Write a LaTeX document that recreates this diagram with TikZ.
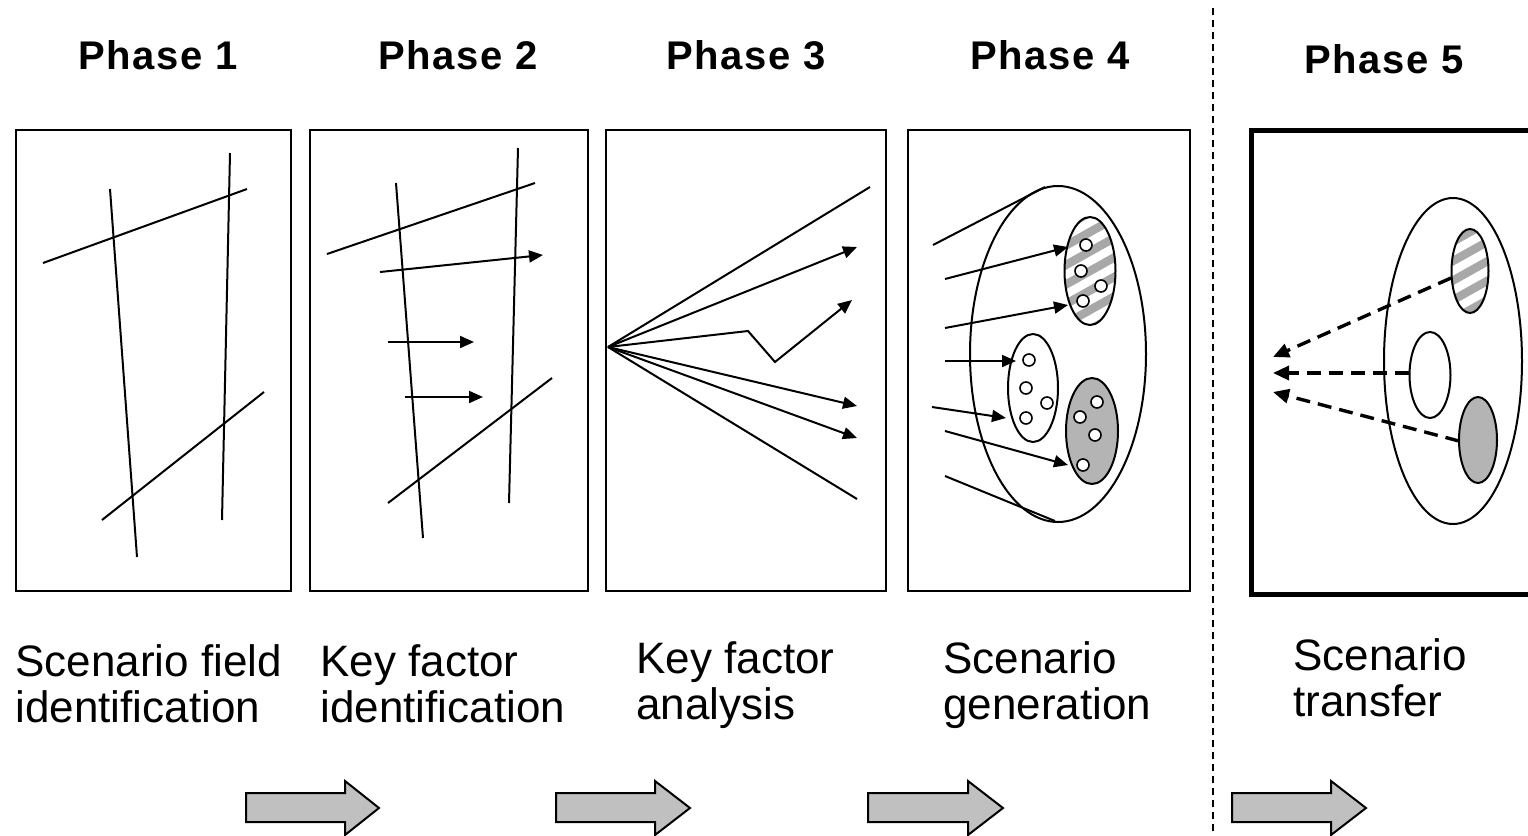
\documentclass[tikz,border=0pt]{standalone}
\usepackage{fontspec}
\setmainfont{Liberation Sans}
\usetikzlibrary{arrows.meta}
\definecolor{arrowgray}{HTML}{C0C0C0}
\definecolor{fillgray}{HTML}{B4B4B4}
\definecolor{hatchgray}{HTML}{A8A8A8}
\newcommand\hatchell[4]{%
  \begin{scope}
    \clip (#1,#2) ellipse [x radius=#3, y radius=#4];
    \foreach \k in {-8,...,8}
      \draw[hatchgray, line width=4.2pt] ({#1-50},{#2+\k*19.5+28}) -- ({#1+50},{#2+\k*19.5-28});
  \end{scope}
  \draw[line width=1pt] (#1,#2) ellipse [x radius=#3, y radius=#4];}
\begin{document}
\begin{tikzpicture}[x=0.5pt,y=-0.5pt,
  panel/.style={draw=black, line width=1pt},
  ln/.style={line width=1pt},
  arr/.style={line width=1pt, -{Triangle[length=7pt,width=6pt]}},
  darr/.style={line width=1.7pt, dash pattern=on 7pt off 4pt, -{Triangle[length=8pt,width=7pt]}},
  blockarrow/.style={draw=black, fill=arrowgray, line width=1pt, line join=miter},
  phase/.style={font=\bfseries\fontsize{20}{24}\selectfont\addfontfeature{LetterSpace=4}, anchor=base, inner sep=0pt},
  lbl/.style={font=\fontsize{22}{23}\selectfont, align=left, anchor=base west, inner sep=0pt},
  dot/.style={draw, line width=0.8pt, fill=white}
]
\clip (0,0) rectangle (1528,836);
\fill[white] (0,0) rectangle (1528,836);

% headings
\node[phase] (h1) at (158,69) {Phase 1};
\node[phase] (h2) at (458,69) {Phase 2};
\node[phase] (h3) at (746,69) {Phase 3};
\node[phase] (h4) at (1050,69) {Phase 4};
\node[phase] (h5) at (1384,73) {Phase 5};

% panels
\draw[panel] (16,130) rectangle (291,591);
\draw[panel] (310,130) rectangle (588,591);
\draw[panel] (606,130) rectangle (886,591);
\draw[panel] (908,130) rectangle (1190,591);
\draw[line width=2.5pt] (1251,130) rectangle (1545,594);

% separator
\draw[line width=1pt, dash pattern=on 3.5pt off 2.5pt] (1213,8) -- (1213,836);

% Phase 1
\draw[ln] (110,189) -- (137,557);
\draw[ln] (230,153) -- (222,520);
\draw[ln] (43,263) -- (247,189);
\draw[ln] (102,520) -- (264,392);

% Phase 2
\draw[ln] (396,183) -- (423,538);
\draw[ln] (518,148) -- (509,503);
\draw[ln] (327,254) -- (535,183);
\draw[ln] (388,503) -- (552,378);
\draw[arr] (380,272) -- (543,255);
\draw[arr] (388,342) -- (474,342);
\draw[arr] (405,397) -- (483,397);

% Phase 3
\coordinate (o) at (608,347);
\draw[ln] (o) -- (870,187);
\draw[arr] (o) -- (857,247);
\draw[arr] (o) -- (748,331) -- (775,362) -- (852,300);
\draw[arr] (o) -- (857,406);
\draw[arr] (o) -- (857,438);
\draw[ln] (o) -- (857,499);

% Phase 4
\draw[line width=1pt] (1058,354) ellipse [x radius=88, y radius=168];
\hatchell{1090}{271}{25.5}{54}
\draw[line width=1pt] (1033,388) ellipse [x radius=25, y radius=54];
\draw[line width=1pt, fill=fillgray] (1092,431) ellipse [x radius=26, y radius=53];
\foreach \p in {(1086,245),(1081,271),(1101,286),(1083,301),
                (1029,360),(1026,388),(1047,403),(1026,418),
                (1097,402),(1080,417),(1095,435),(1083,465)}
  \draw[dot] \p circle [radius=6];
\draw[ln] (933,245) -- (1045,187);
\draw[arr] (945,279) -- (1068,247);
\draw[arr] (945,328) -- (1068,305);
\draw[arr] (945,361) -- (1016,361);
\draw[arr] (932,407) -- (1006,418);
\draw[arr] (945,431) -- (1068,465);
\draw[ln] (945,476) -- (1055,521);

% Phase 5
\draw[line width=1pt] (1453,361) ellipse [x radius=69, y radius=163];
\hatchell{1470}{271}{18.5}{42}
\draw[line width=1pt] (1430,375) ellipse [x radius=20.5, y radius=43];
\draw[line width=1pt, fill=fillgray] (1478,440) ellipse [x radius=19, y radius=43];
\draw[darr] (1451,278) -- (1273,357);
\draw[darr] (1409,373) -- (1273,373);
\draw[darr] (1459,441) -- (1273,392);

% labels
\node[lbl] (l1) at (15,722) {Scenario field\\identification};
\node[lbl] (l2) at (320,722) {Key factor\\identification};
\node[lbl] (l3) at (636,719) {Key factor\\analysis};
\node[lbl] (l4) at (943,719) {Scenario\\generation};
\node[lbl] (l5) at (1293,716) {Scenario\\transfer};

% block arrows
\foreach \a/\b/\c in {246/345/379, 556/655/690, 868/968/1003, 1232/1331/1366}
  \draw[blockarrow] (\a,793) -- (\b,793) -- (\b,781) -- (\c,808) -- (\b,835) -- (\b,822) -- (\a,822) -- cycle;
\end{tikzpicture}
\end{document}
